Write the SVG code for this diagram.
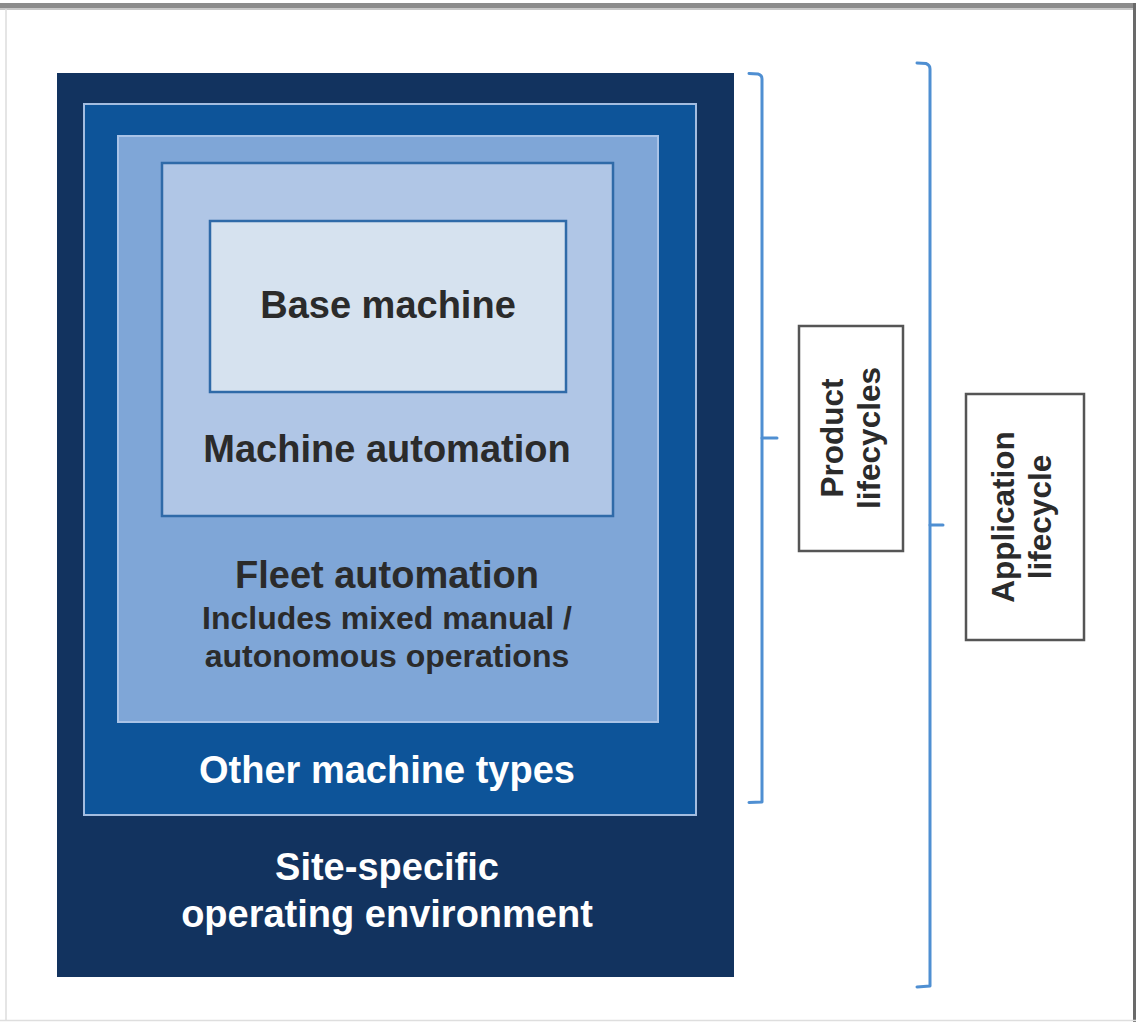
<svg xmlns="http://www.w3.org/2000/svg" width="1136" height="1022" viewBox="0 0 1136 1022">
<style>
text{font-family:"Liberation Sans",Arial,Helvetica,sans-serif;font-weight:bold;text-anchor:middle}
.dk{fill:#2b2b2b}
.wt{fill:#ffffff}
.big{font-size:38px}
.sub{font-size:32px}
.vt{font-size:31.5px;fill:#2b2b2b}
.lbl{fill:#ffffff;stroke:#555555;stroke-width:2.5}
.br{fill:none;stroke:#4f8fd2;stroke-width:3;stroke-linejoin:round;stroke-linecap:round}
</style>
<rect x="0" y="0" width="1136" height="1022" fill="#ffffff"/>
<g id="frame">
<rect x="0" y="3" width="1136" height="6" fill="#8c8c8c"/>
<rect x="0" y="8" width="1136" height="2" fill="#c8c8c8"/>
<line x1="6" y1="9" x2="6" y2="1021" stroke="#dcdcdc" stroke-width="1.5"/>
<line x1="1134.5" y1="3" x2="1134.5" y2="1022" stroke="#6a6a6a" stroke-width="3"/>
<line x1="0" y1="1020.5" x2="1136" y2="1020.5" stroke="#dedede" stroke-width="1.5"/>
</g>
<g id="site-env">
<rect x="57" y="73" width="677" height="904" fill="#12335f"/>
<text class="big wt" x="387" y="880">Site-specific</text>
<text class="big wt" x="387" y="927">operating environment</text>
</g>
<g id="other-machine-types">
<rect x="84" y="104" width="612" height="711" fill="#0d5499" stroke="#a3bde0" stroke-width="2"/>
<text class="big wt" x="387" y="783">Other machine types</text>
</g>
<g id="fleet-automation">
<rect x="118" y="136" width="540" height="586" fill="#7fa6d7" stroke="#a9c3e7" stroke-width="2"/>
<text class="big dk" x="387" y="588">Fleet automation</text>
<text class="sub dk" x="387" y="629">Includes mixed manual /</text>
<text class="sub dk" x="387" y="667">autonomous operations</text>
</g>
<g id="machine-automation">
<rect x="162" y="163" width="451" height="353" fill="#b0c6e6" stroke="#2f6aa8" stroke-width="2.5"/>
<text class="big dk" x="387" y="462">Machine automation</text>
</g>
<g id="base-machine">
<rect x="210" y="221" width="356" height="171" fill="#d6e2ef" stroke="#2f6aa8" stroke-width="2.5"/>
<text class="big dk" x="388" y="318">Base machine</text>
</g>
<g id="connectors">
<path class="br" d="M749 73.5 L758 74 Q762 75 762 79 L762 802 L749 802.5"/>
<path class="br" d="M762 438 L777 438"/>
<path class="br" d="M917 63 L926 63.5 Q930 65 930 69 L930 986 L917 987"/>
<path class="br" d="M930 525 L943 525"/>
</g>
<g id="product-lifecycles">
<rect class="lbl" x="799" y="326" width="104" height="225"/>
<g transform="translate(843,438) rotate(-90)">
<text class="vt" x="0" y="0">Product</text>
<text class="vt" x="0" y="37">lifecycles</text>
</g>
</g>
<g id="application-lifecycle">
<rect class="lbl" x="966" y="394" width="118" height="246"/>
<g transform="translate(1014,517) rotate(-90)">
<text class="vt" x="0" y="0">Application</text>
<text class="vt" x="0" y="37">lifecycle</text>
</g>
</g>
</svg>
